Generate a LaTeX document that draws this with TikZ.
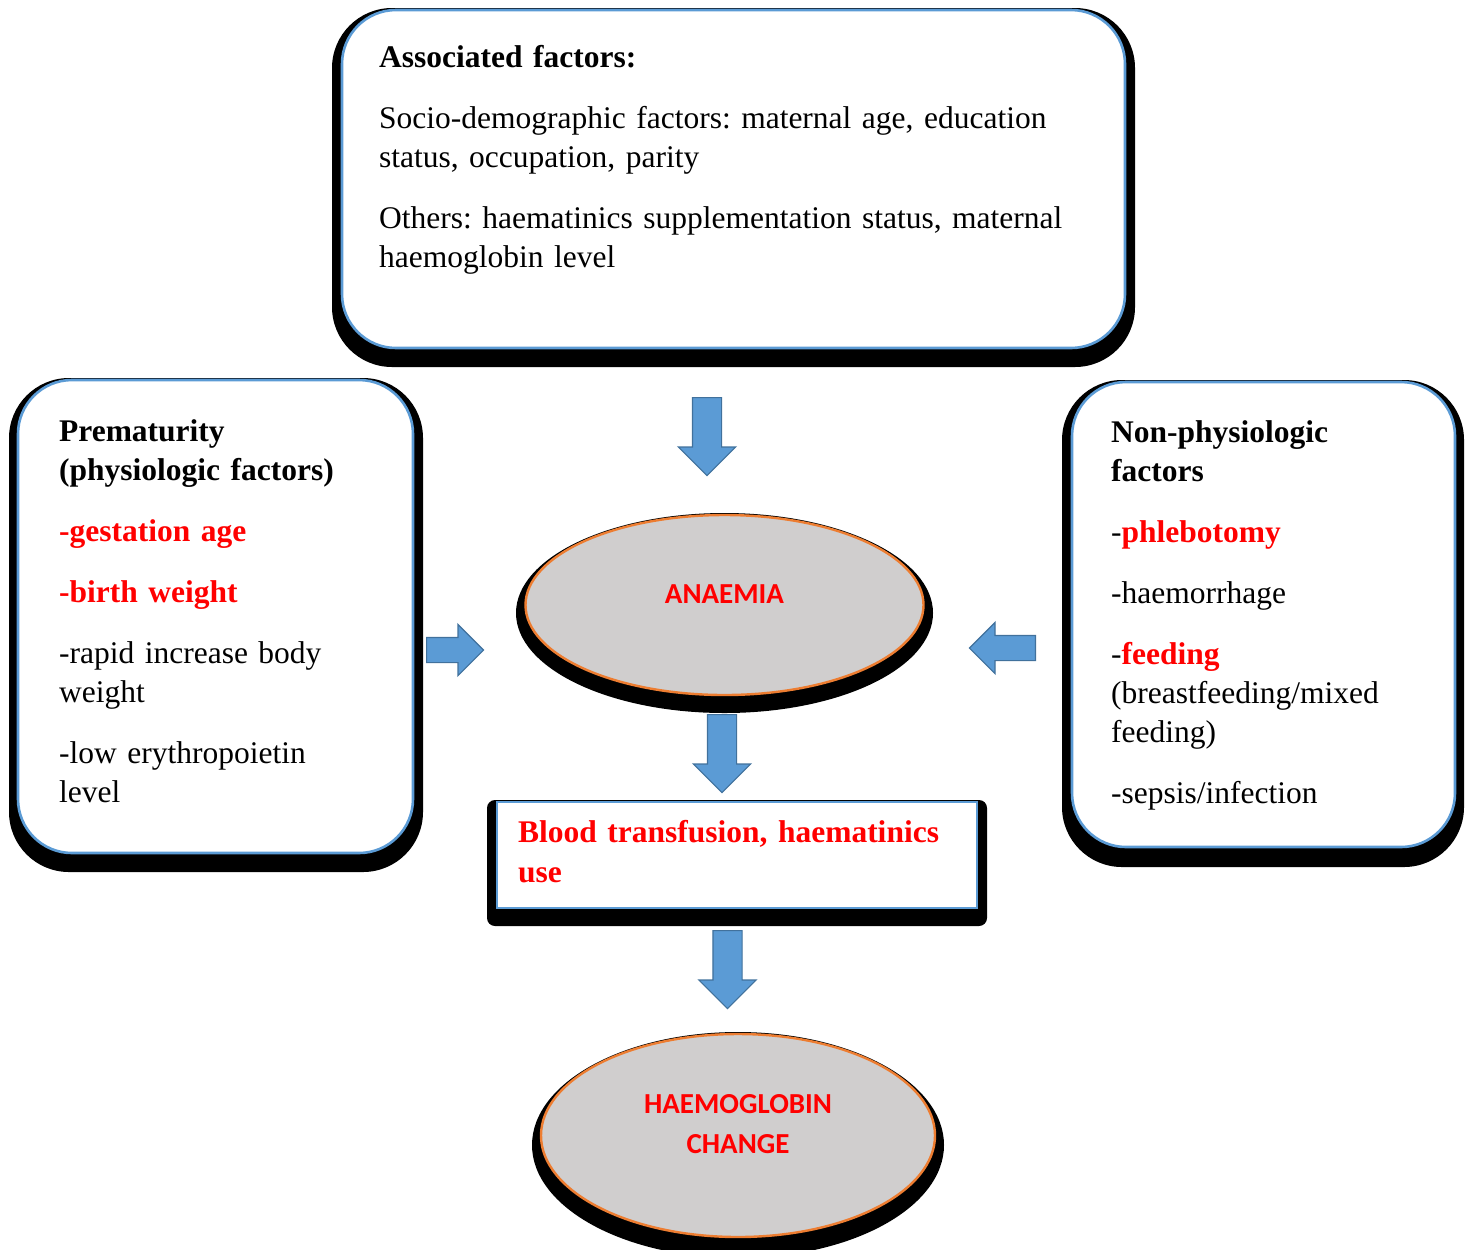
\documentclass[tikz,border=0pt]{standalone}
\usepackage{fontspec}
\setmainfont{Liberation Serif}
\newfontfamily\calfont{Carlito}
\usepackage{xcolor}
\usetikzlibrary{positioning, shapes.geometric, shapes.arrows}
\frenchspacing

\definecolor{lineblue}{HTML}{5B9BD5}
\definecolor{arrowblue}{HTML}{5B9BD5}
\definecolor{arrowedge}{HTML}{41719C}
\definecolor{ellfill}{HTML}{D0CECE}
\definecolor{ellorange}{HTML}{ED7D31}
\definecolor{txtred}{HTML}{FF0000}

\begin{document}
\begin{tikzpicture}
[
x=0.5pt, y=-0.5pt,
box-a/.style={draw=lineblue, line width=1.3pt, fill=white, rounded corners=27pt, inner sep=0pt},
shade-a/.style={fill=black, rounded corners=30pt, inner sep=0pt},
ell-a/.style={ellipse, draw=ellorange, line width=1.2pt, fill=ellfill, inner sep=0pt},
shade-e/.style={ellipse, fill=black, inner sep=0pt},
arrow-a/.style={single arrow, fill=arrowblue, draw=arrowedge, line width=0.6pt, inner xsep=0pt, inner ysep=7pt, single arrow head extend=7pt, minimum height=39pt},
arrow-b/.style={single arrow, fill=arrowblue, draw=arrowedge, line width=0.6pt, inner xsep=0pt, inner ysep=6pt, single arrow head extend=6.5pt},
text-a/.style={anchor=base west, align=left, inner sep=0pt, font=\fontsize{15.75}{19.5}\selectfont},
text-b/.style={inner sep=0pt, text=txtred, font=\calfont\bfseries\fontsize{14.5}{20}\selectfont}
]
\useasboundingbox (0,0) rectangle (1471,1249);

% shadows
\node (box-top-sh)   [shade-a, minimum width=401.5pt, minimum height=179.5pt] at (733.5,187.5) {};
\node (box-left-sh)  [shade-a, minimum width=207pt,   minimum height=247pt]   at (216,625)     {};
\node (box-right-sh) [shade-a, minimum width=201pt,   minimum height=243.5pt] at (1263,623.5)  {};
\node (box-use-sh)   [shade-a, rounded corners=4pt, minimum width=250pt, minimum height=63pt] at (737,863) {};

% boxes
\node (box-top)   [box-a, minimum width=391.5pt, minimum height=169pt]   at (733.5,179)   {};
\node (box-left)  [box-a, minimum width=197.5pt, minimum height=236.5pt] at (215.5,616.5) {};
\node (box-right) [box-a, minimum width=191.5pt, minimum height=232.5pt] at (1263.5,614.5) {};
\node (box-use)   [box-a, rounded corners=0pt, minimum width=240pt, minimum height=53pt] at (737,855) {};

\node (box-top-tx) [text-a, text width=370pt] at ([shift={(38,59)}]box-top.north west)
  {\textbf{Associated factors:}\\[11pt]
   Socio-demographic factors: maternal age, education\\
   status, occupation, parity\\[11pt]
   Others: haematinics supplementation status, maternal\\
   haemoglobin level};
\node (box-left-tx) [text-a, text width=185pt] at ([shift={(42,63)}]box-left.north west)
  {\textbf{Prematurity}\\
   \textbf{(physiologic factors)}\\[11pt]
   \textcolor{txtred}{\textbf{-gestation age}}\\[11pt]
   \textcolor{txtred}{\textbf{-birth weight}}\\[11pt]
   -rapid increase body\\
   weight\\[11pt]
   -low erythropoietin\\
   level};
\node (box-right-tx) [text-a, text width=180pt] at ([shift={(40,62)}]box-right.north west)
  {\textbf{Non-physiologic}\\
   \textbf{factors}\\[11pt]
   -\textcolor{txtred}{\textbf{phlebotomy}}\\[11pt]
   -haemorrhage\\[11pt]
   -\textcolor{txtred}{\textbf{feeding}}\\
   (breastfeeding/mixed\\
   feeding)\\[11pt]
   -sepsis/infection};
\node (box-use-tx) [text-a, text width=230pt, font=\fontsize{15.75}{20}\selectfont\bfseries, text=txtred] at ([shift={(22,42)}]box-use.north west)
  {Blood transfusion, haematinics\\
   use};

% ellipses
\node (anaemia-sh)   [shade-e, minimum width=208.5pt, minimum height=100pt] at (724.5,613) {};
\node (anaemia)      [ell-a,   minimum width=199pt,   minimum height=90pt]  at (724.5,605) {};
\node (anaemia-tx)   [text-b, anchor=base] at ([yshift=1pt]anaemia.center) {ANAEMIA};
\node (hb-change-sh) [shade-e, minimum width=206pt,   minimum height=113pt] at (738,1145)  {};
\node (hb-change)    [ell-a,   minimum width=197pt,   minimum height=101.5pt] at (738,1135.5) {};
\node (hb-change-tx) [text-b, anchor=base, text width=130pt, align=center] at ([yshift=11pt]hb-change.center) {HAEMOGLOBIN\\CHANGE};

% block arrows
\node (arrow-top)   [arrow-a, rotate=-90, anchor=tail] at (707,397)    {};
\node (arrow-left)  [arrow-b, minimum height=28.5pt, anchor=tail] at (426,650) {};
\node (arrow-right) [arrow-b, minimum height=33pt, rotate=180, anchor=tail] at (1036,648) {};
\node (arrow-mid)   [arrow-a, rotate=-90, anchor=tail] at (722,714)    {};
\node (arrow-bot)   [arrow-a, rotate=-90, anchor=tail] at (727.5,930)  {};
\end{tikzpicture}
\end{document}
